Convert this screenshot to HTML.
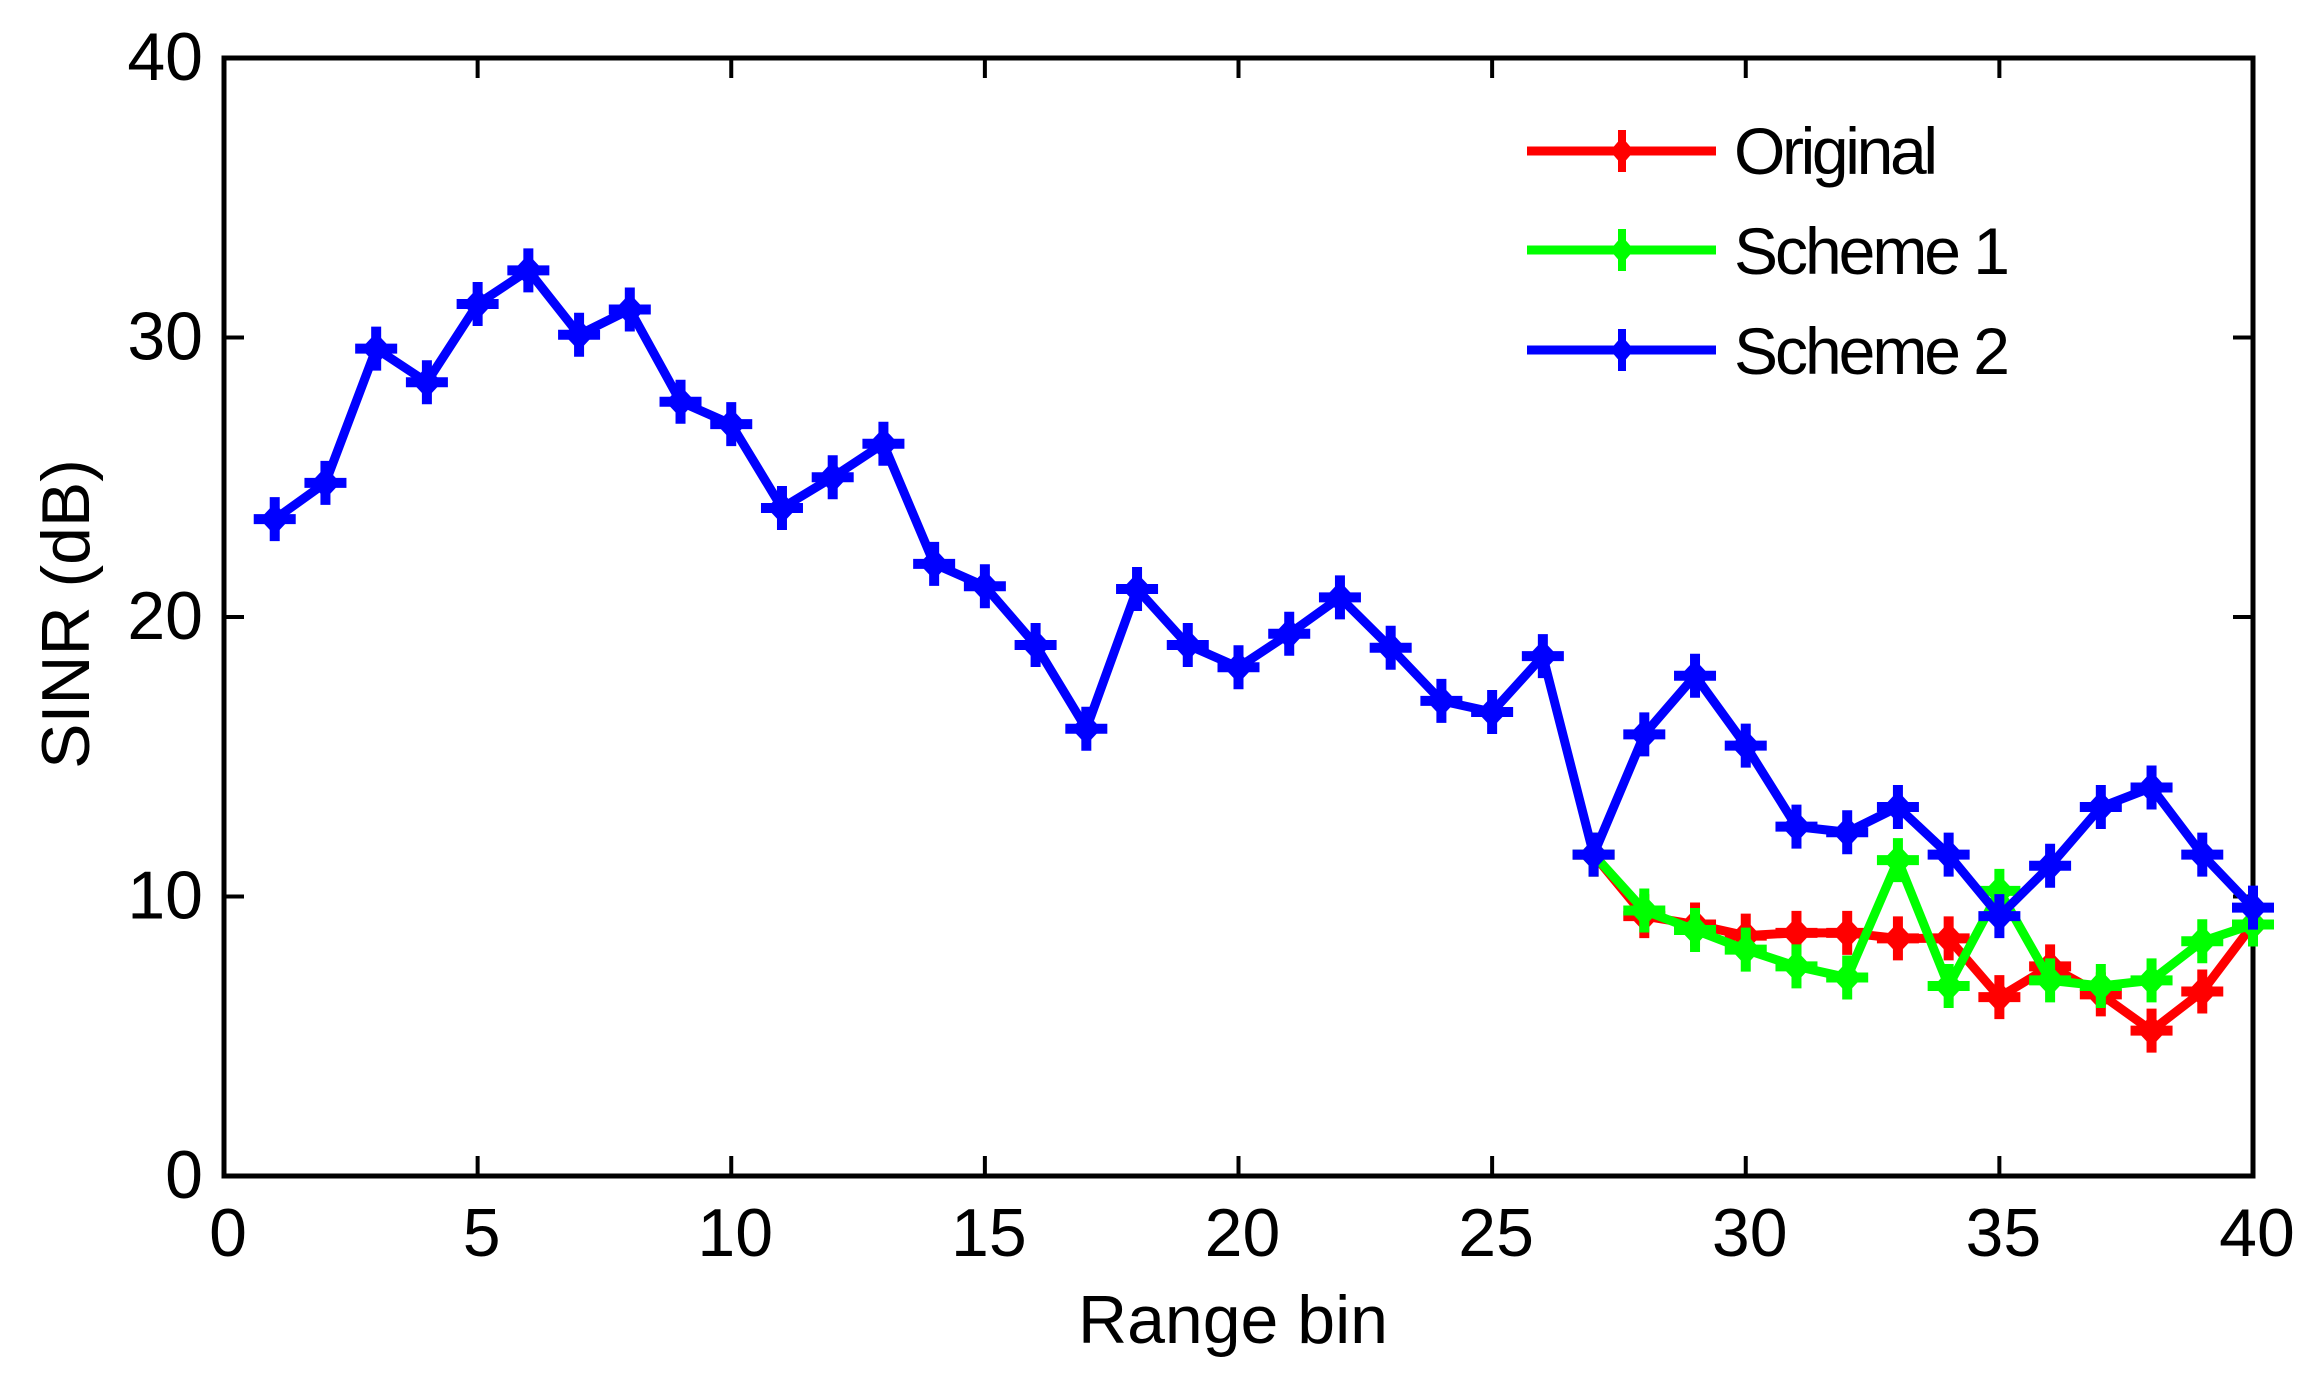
<!DOCTYPE html>
<html><head><meta charset="utf-8"><style>
html,body{margin:0;padding:0;background:#fff;}
svg{display:block;}
text{font-family:"Liberation Sans",Arial,sans-serif;fill:#000;}
</style></head><body>
<svg id="s" width="2302" height="1381" viewBox="0 0 2302 1381" xmlns="http://www.w3.org/2000/svg">
<rect width="2302" height="1381" fill="#fff"/>
<g id="axes" stroke="#000" stroke-width="5" fill="none">
<rect x="224" y="58" width="2029" height="1118"/>
</g>
<g id="ticks" stroke="#000" stroke-width="4"></g>
<g id="labels" font-size="68"></g>
<g id="series"></g>
<text x="1233" y="1343" font-size="68" text-anchor="middle">Range bin</text>
<text transform="translate(89,614) rotate(-90)" font-size="68" text-anchor="middle">SINR (dB)</text>
<g id="legend" font-size="66">
<text x="1734" y="174" textLength="204">Original</text>
<text x="1734" y="274" textLength="276">Scheme 1</text>
<text x="1734" y="374" textLength="276">Scheme 2</text>
</g>
</svg>
<script>
var NS="http://www.w3.org/2000/svg";
function X(v){return 224+v*(2029/40);}
function Y(v){return 1176-v*(1118/40);}
function el(p,t,a){var e=document.createElementNS(NS,t);for(var k in a)e.setAttribute(k,a[k]);p.appendChild(e);return e;}
var tk=document.getElementById('ticks'),lb=document.getElementById('labels');
for(var v=0;v<=40;v+=5){var x=X(v);
 if(v>0&&v<40){el(tk,'line',{x1:x,y1:1176,x2:x,y2:1156});el(tk,'line',{x1:x,y1:58,x2:x,y2:78});}
 var t=el(lb,'text',{x:x+4,y:1256,'text-anchor':'middle'});t.textContent=v;}
for(var v=0;v<=40;v+=10){var y=Y(v);
 if(v>0&&v<40){el(tk,'line',{x1:224,y1:y,x2:244,y2:y});el(tk,'line',{x1:2253,y1:y,x2:2233,y2:y});}
 var t=el(lb,'text',{x:203,y:y+22,'text-anchor':'end'});t.textContent=v;}
var blue=[23.5,24.8,29.6,28.4,31.2,32.4,30.1,31,27.7,26.9,23.9,25,26.2,21.9,21.1,19,16,21,19,18.2,19.4,20.7,18.9,17,16.6,18.6,11.5,15.8,17.9,15.4,12.5,12.3,13.2,11.5,9.3,11.1,13.2,13.9,11.5,9.6];
var red=[11.5,9.3,9,8.6,8.7,8.7,8.5,8.5,6.4,7.5,6.5,5.2,6.6,9];
var green=[11.5,9.5,8.8,8.1,7.5,7.1,11.3,6.8,10.2,7,6.8,7,8.4,9];
var sg=document.getElementById('series');
function marker(g,x,y,c){
 el(g,'line',{x1:x-21,y1:y,x2:x+21,y2:y,stroke:c,'stroke-width':10});
 el(g,'line',{x1:x,y1:y-22,x2:x,y2:y+22,stroke:c,'stroke-width':10});
 el(g,'polygon',{points:(x)+','+(y-16)+' '+(x+15)+','+y+' '+x+','+(y+16)+' '+(x-15)+','+y,fill:c});
}
function series(d,start,c){
 var pts=d.map(function(v,i){return X(start+i)+','+Y(v);}).join(' ');
 el(sg,'polyline',{points:pts,fill:'none',stroke:c,'stroke-width':9,'stroke-linejoin':'round'});
 d.forEach(function(v,i){marker(sg,X(start+i),Y(v),c);});
}
series(red,27,'#ff0000');series(green,27,'#00ff00');series(blue,1,'#0000ff');
var lg=document.getElementById('legend');
[['#ff0000',151],['#00ff00',250],['#0000ff',350]].forEach(function(a){
 el(lg,'line',{x1:1527,y1:a[1],x2:1716,y2:a[1],stroke:a[0],'stroke-width':9});
 el(lg,'line',{x1:1622,y1:a[1]-21,x2:1622,y2:a[1]+21,stroke:a[0],'stroke-width':8});
 el(lg,'polygon',{points:'1622,'+(a[1]-14)+' 1634,'+a[1]+' 1622,'+(a[1]+14)+' 1610,'+a[1],fill:a[0]});
});
</script>
</body></html>
